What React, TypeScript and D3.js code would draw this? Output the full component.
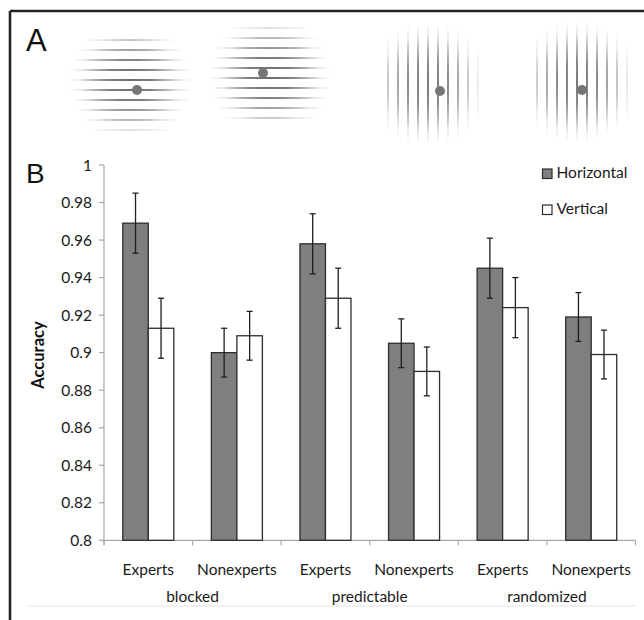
import React from "react";
import * as d3 from "d3";

// Panel B data
const conditions = ["blocked", "predictable", "randomized"];
const groups = ["Experts", "Nonexperts"];
const seriesNames = ["Horizontal", "Vertical"];
const horizontal = [0.969, 0.9, 0.958, 0.905, 0.945, 0.919];
const vertical = [0.913, 0.909, 0.929, 0.89, 0.924, 0.899];
const horizontalErr = [0.016, 0.013, 0.016, 0.013, 0.016, 0.013];
const verticalErr = [0.016, 0.013, 0.016, 0.013, 0.016, 0.013];
const yTicks = [0.8, 0.82, 0.84, 0.86, 0.88, 0.9, 0.92, 0.94, 0.96, 0.98, 1];

// Panel A stimuli (illustration): orientation, envelope centre, first line, probe dot
const stimuli = [
  { orient: "h", cx: 130, cy: 82, first: 40, dotX: 137, dotY: 90 },
  { orient: "h", cx: 270, cy: 76, first: 28, dotX: 263, dotY: 73 },
  { orient: "v", cx: 428, cy: 84, first: 388, dotX: 440, dotY: 91 },
  { orient: "v", cx: 578, cy: 82, first: 537, dotX: 582, dotY: 90 },
];
const lineCount = 10;
const lineGap = 10;

const W = 644;
const H = 620;
const font = "Lato, 'Open Sans', sans-serif";

export default function App() {
  const cells = conditions.flatMap((c) => groups.map((g) => `${c}|${g}`));

  const x = d3
    .scaleBand<string>()
    .domain(cells)
    .range([104, 635.5])
    .paddingInner(0.424)
    .paddingOuter(0.212);
  const step = x.step();
  const xSub = d3.scaleBand<string>().domain(seriesNames).range([0, x.bandwidth()]);
  const y = d3.scaleLinear().domain([0.8, 1]).range([540.3, 165]);

  const series = [
    { name: "Horizontal", values: horizontal, err: horizontalErr, fill: "#7f7f7f" },
    { name: "Vertical", values: vertical, err: verticalErr, fill: "#ffffff" },
  ];

  const boundaries = d3.range(cells.length + 1).map((i) => 104 + i * step);

  return (
    <svg
      width={W}
      height={H}
      style={{ position: "absolute", left: 0, top: 0, background: "#fff" }}
    >
      <defs>
        <filter id="soft" x="-20%" y="-20%" width="140%" height="140%">
          <feGaussianBlur stdDeviation="0.6" />
        </filter>
        {stimuli.map((s, i) => (
          <radialGradient
            key={i}
            id={`env${i}`}
            gradientUnits="userSpaceOnUse"
            cx={s.cx}
            cy={s.cy}
            r={62}
          >
            <stop offset="0" stopColor="#fff" stopOpacity={1} />
            <stop offset="0.35" stopColor="#fff" stopOpacity={0.85} />
            <stop offset="0.6" stopColor="#fff" stopOpacity={0.5} />
            <stop offset="0.8" stopColor="#fff" stopOpacity={0.15} />
            <stop offset="1" stopColor="#fff" stopOpacity={0} />
          </radialGradient>
        ))}
        {stimuli.map((s, i) => (
          <mask key={i} id={`mask${i}`} maskUnits="userSpaceOnUse" x={0} y={0} width={W} height={H}>
            <rect x={0} y={0} width={W} height={H} fill={`url(#env${i})`} />
          </mask>
        ))}
      </defs>

      {/* frame */}
      <line x1={10} y1={11} x2={W} y2={11} stroke="#222" strokeWidth={2.6} />
      <line x1={10} y1={11} x2={10} y2={H} stroke="#222" strokeWidth={2.6} />
      <line x1={27} y1={606} x2={636} y2={606} stroke="#e4e4e4" strokeWidth={1} />

      {/* panel letters */}
      <text x={26} y={51} fontFamily="'Liberation Sans', Arial, sans-serif" fontSize={31} fill="#111">
        A
      </text>
      <text x={26} y={183} fontFamily="'Liberation Sans', Arial, sans-serif" fontSize={28} fill="#111">
        B
      </text>

      {/* panel A gratings */}
      {stimuli.map((s, i) => (
        <g key={i}>
          <g mask={`url(#mask${i})`} filter="url(#soft)">
            {d3.range(lineCount).map((k) => {
              const p = s.first + k * lineGap;
              return s.orient === "h" ? (
                <line key={k} x1={s.cx - 60} x2={s.cx + 60} y1={p} y2={p} stroke="#6a6a6a" strokeWidth={1.8} />
              ) : (
                <line key={k} y1={s.cy - 60} y2={s.cy + 60} x1={p} x2={p} stroke="#6a6a6a" strokeWidth={1.8} />
              );
            })}
          </g>
          <circle cx={s.dotX} cy={s.dotY} r={5} fill="#767676" filter="url(#soft)" />
        </g>
      ))}

      {/* y axis */}
      <line x1={104} y1={165} x2={104} y2={545} stroke="#a8a8a8" strokeWidth={1.2} />
      {yTicks.map((t) => (
        <g key={t}>
          <line x1={99} x2={104} y1={y(t)} y2={y(t)} stroke="#a8a8a8" strokeWidth={1.2} />
          <text
            x={92}
            y={y(t)}
            dy="0.36em"
            textAnchor="end"
            fontFamily={font}
            fontSize={15.5}
            fill="#1a1a1a"
          >
            {d3.format("")(+t.toFixed(2))}
          </text>
        </g>
      ))}
      <text
        transform={`translate(44,355) rotate(-90)`}
        textAnchor="middle"
        fontFamily={font}
        fontWeight="bold"
        fontSize={16.5}
        fill="#111"
      >
        Accuracy
      </text>

      {/* x axis */}
      <line x1={104} y1={y(0.8)} x2={635.5} y2={y(0.8)} stroke="#a8a8a8" strokeWidth={1.2} />
      {boundaries.map((b, i) => (
        <line key={i} x1={b} x2={b} y1={y(0.8)} y2={y(0.8) + 5} stroke="#a8a8a8" strokeWidth={1.2} />
      ))}

      {/* bars */}
      {series.map((s) =>
        cells.map((c, i) => {
          const bx = (x(c) ?? 0) + (xSub(s.name) ?? 0);
          const bw = xSub.bandwidth();
          const v = s.values[i];
          return (
            <rect
              key={s.name + c}
              x={bx}
              y={y(v)}
              width={bw}
              height={y(0.8) - y(v)}
              fill={s.fill}
              stroke="#2e2e2e"
              strokeWidth={1.3}
            />
          );
        })
      )}

      {/* error bars */}
      {series.map((s) =>
        cells.map((c, i) => {
          const cx = (x(c) ?? 0) + (xSub(s.name) ?? 0) + xSub.bandwidth() / 2;
          const hi = y(s.values[i] + s.err[i]);
          const lo = y(s.values[i] - s.err[i]);
          return (
            <g key={"e" + s.name + c} stroke="#1e1e1e" strokeWidth={1.3}>
              <line x1={cx} x2={cx} y1={hi} y2={lo} />
              <line x1={cx - 3} x2={cx + 3} y1={hi} y2={hi} />
              <line x1={cx - 3} x2={cx + 3} y1={lo} y2={lo} />
            </g>
          );
        })
      )}

      {/* category labels */}
      {cells.map((c) => (
        <text
          key={"l" + c}
          x={(x(c) ?? 0) + x.bandwidth() / 2}
          y={574.5}
          textAnchor="middle"
          fontFamily={font}
          fontSize={15.5}
          fill="#1a1a1a"
        >
          {c.split("|")[1]}
        </text>
      ))}
      {conditions.map((cond, i) => (
        <text
          key={cond}
          x={104 + (2 * i + 1) * step}
          y={602}
          textAnchor="middle"
          fontFamily={font}
          fontSize={15.5}
          fill="#1a1a1a"
        >
          {cond}
        </text>
      ))}

      {/* legend */}
      {series.map((s, i) => (
        <g key={"lg" + s.name} transform={`translate(542.5,${169 + i * 36})`}>
          <rect x={0} y={0} width={9.5} height={9.5} fill={s.fill} stroke="#2e2e2e" strokeWidth={1.2} />
          <text x={14} y={9} fontFamily={font} fontSize={15.5} fill="#1a1a1a">
            {s.name}
          </text>
        </g>
      ))}
    </svg>
  );
}
